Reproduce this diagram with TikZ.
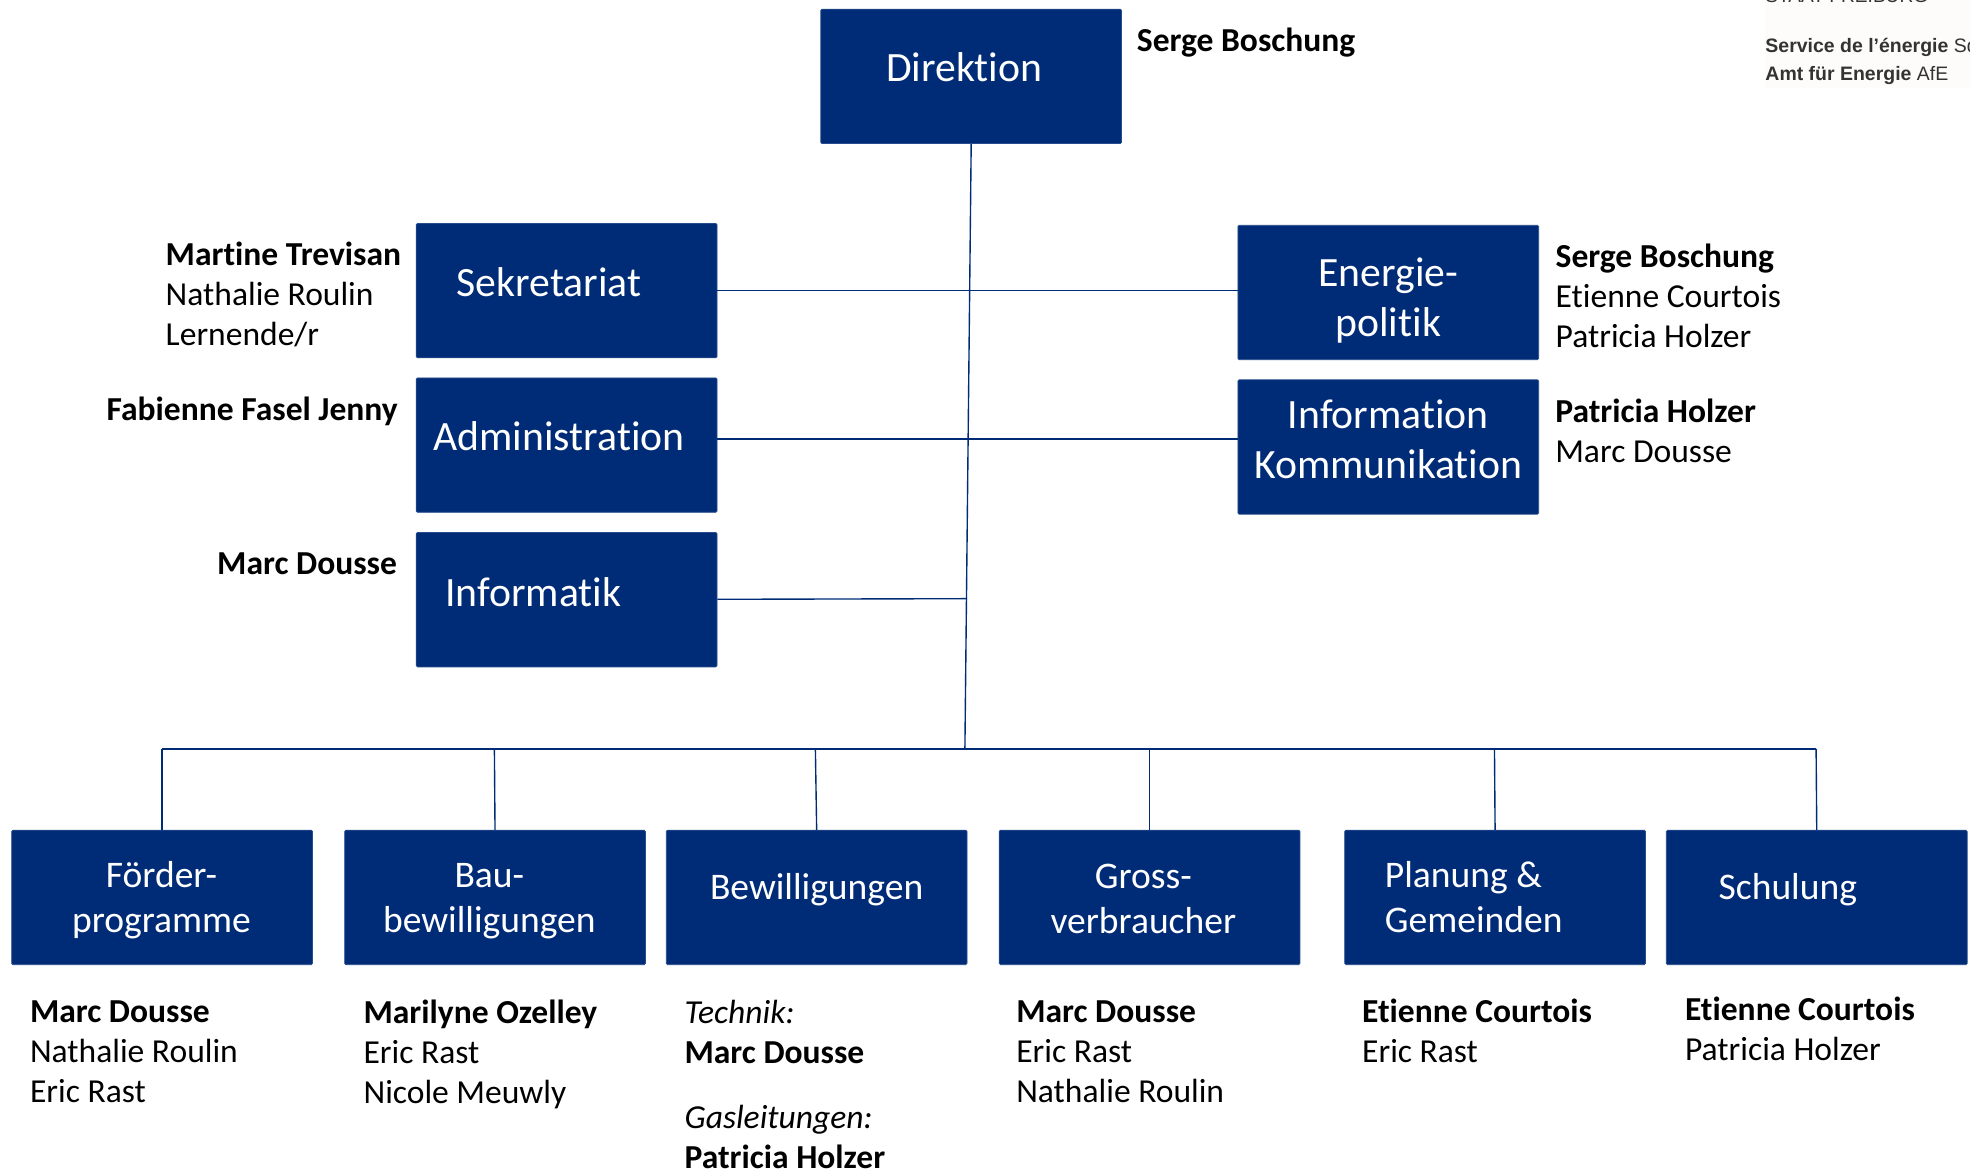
\documentclass[tikz,border=0pt]{standalone}
\usepackage{fontspec}
\setmainfont[RawFeature={-liga}]{Carlito}
\newfontfamily\logofont{Liberation Sans}
\definecolor{boxblue}{HTML}{002C77}
\definecolor{logobg}{HTML}{FEFCFB}
\definecolor{logotext}{HTML}{333333}
\tikzset{
  x=1pt,y=-1pt,
  orgbox/.style={draw=boxblue!85!white,line width=0.6pt,fill=boxblue,rounded corners=1pt,minimum width=239.4pt,minimum height=107pt,inner sep=0pt,anchor=north west},
  boxlabel/.style={text=white,align=center,inner sep=0pt,anchor=center},
  big/.style={font=\fontsize{33.2}{40}\selectfont},
  mid/.style={font=\fontsize{29.9}{36}\selectfont},
  namelist/.style={anchor=north west,align=left,inner sep=0pt,text=black,font=\fontsize{26.7}{32}\selectfont},
  link/.style={draw=boxblue,line width=1.1pt},
  logotxt/.style={anchor=base west,inner sep=0pt,text=logotext,font=\logofont\fontsize{15.5}{18}\selectfont},
}
\begin{document}
\begin{tikzpicture}
\useasboundingbox (0,0) rectangle (1568,932);
\begin{scope}
\clip (0,0) rectangle (1568,932);
\fill[logobg] (1405,0) rectangle (1568,70);
\node[logotxt] (logoa) at (1405,2) {\fontsize{15.2}{18}\selectfont STAAT FREIBURG};
\node[logotxt] (logob) at (1405,42) {\textbf{Service de l’énergie} SdE};
\node[logotxt] (logoc) at (1405,64) {\textbf{Amt für Energie} AfE};

% boxes
\node[orgbox] (dir) at (653,7) {};
\node[orgbox] (sek) at (331,177.5) {};
\node[orgbox] (adm) at (331,300.5) {};
\node[orgbox] (inf) at (331,423.5) {};
\node[orgbox] (ene) at (985,179) {};
\node[orgbox] (kom) at (985,302) {};
\node[orgbox] (foe) at (9,660.5) {};
\node[orgbox] (bau) at (274,660.5) {};
\node[orgbox] (bew) at (530,660.5) {};
\node[orgbox] (gro) at (795,660.5) {};
\node[orgbox] (pla) at (1070,660.5) {};
\node[orgbox] (sch) at (1326,660.5) {};

% box labels
\node[boxlabel,big] (ldir) at (767.5,53.5) {Direktion};
\node[boxlabel,big] (lsek) at (437,224.5) {Sekretariat};
\node[boxlabel,big] (ladm) at (445,347.5) {Administration};
\node[boxlabel,big] (linf) at (424.5,471) {Informatik};
\node[boxlabel,big] (lene) at (1105,239) {Energie-\\politik};
\node[boxlabel,big] (lkom) at (1105,349.5) {Information\\Kommunikation};
\node[boxlabel,mid] (lfoe) at (128.5,716.5) {Förder-\\programme};
\node[boxlabel,mid] (lbau) at (389.5,717) {Bau-\\bewilligungen};
\node[boxlabel,mid] (lbew) at (650,708.5) {Bewilligungen};
\node[boxlabel,mid] (lgro) at (910,715.5) {Gross-\\verbraucher};
\node[boxlabel,mid,align=left] (lpla) at (1173,714) {Planung \&\\Gemeinden};
\node[boxlabel,mid] (lsch) at (1423,708.5) {Schulung};

% connector junctions
\coordinate (mainC) at (769.7,476.5);
\coordinate (mainD) at (768,596);
\coordinate (hfoe) at (129,596);
\coordinate (hbau) at (393.5,596);
\coordinate (hbew) at (649,596);
\coordinate (hgro) at (915,596);
\coordinate (hpla) at (1189.5,596);
\coordinate (hsch) at (1445.5,596);
\coordinate (psek) at (571,231);
\coordinate (pene) at (985,231);
\coordinate (padm) at (571,349.5);
\coordinate (pkom) at (985,349.5);
\coordinate (pinf) at (571,477);

\draw[link] (dir.south) -- (mainD);
\draw[link] (psek) -- (pene);
\draw[link] (padm) -- (pkom);
\draw[link] (pinf) -- (mainC);
\draw[link] (hfoe) -- (hsch);
\draw[link] (hfoe) -- (foe.north);
\draw[link] (hbau) -- (bau.north);
\draw[link] (hbew) -- (bew.north);
\draw[link] (hgro) -- (gro.north);
\draw[link] (hpla) -- (pla.north);
\draw[link] (hsch) -- (sch.north);

% names
\node[namelist] (n1) at (904.7,22) {\textbf{Serge Boschung}};
\node[namelist] (n2) at (131.7,192) {\textbf{Martine Trevisan}\\Nathalie Roulin\\Lernende/r};
\node[namelist] (n3) at (84.7,316) {\textbf{Fabienne Fasel Jenny}};
\node[namelist] (n4) at (172.7,439.5) {\textbf{Marc Dousse}};
\node[namelist] (n5) at (1238,194) {\textbf{Serge Boschung}\\Etienne Courtois\\Patricia Holzer};
\node[namelist] (n6) at (1237.7,317) {\textbf{Patricia Holzer}\\Marc Dousse};
\node[namelist] (n7) at (23.7,796) {\textbf{Marc Dousse}\\Nathalie Roulin\\Eric Rast};
\node[namelist] (n8) at (289.2,795.5) {\textbf{Marilyne Ozelley}\\Eric Rast\\Nicole Meuwly};
\node[namelist] (n9) at (544.7,795.5) {\textit{Technik:}\\\textbf{Marc Dousse}\\[20pt]\textit{Gasleitungen:}\\\textbf{Patricia Holzer}};
\node[namelist] (n10) at (808.7,796) {\textbf{Marc Dousse}\\Eric Rast\\Nathalie Roulin};
\node[namelist] (n11) at (1084,795) {\textbf{Etienne Courtois}\\Eric Rast};
\node[namelist] (n12) at (1341,793) {\textbf{Etienne Courtois}\\Patricia Holzer};
\end{scope}
\end{tikzpicture}
\end{document}
